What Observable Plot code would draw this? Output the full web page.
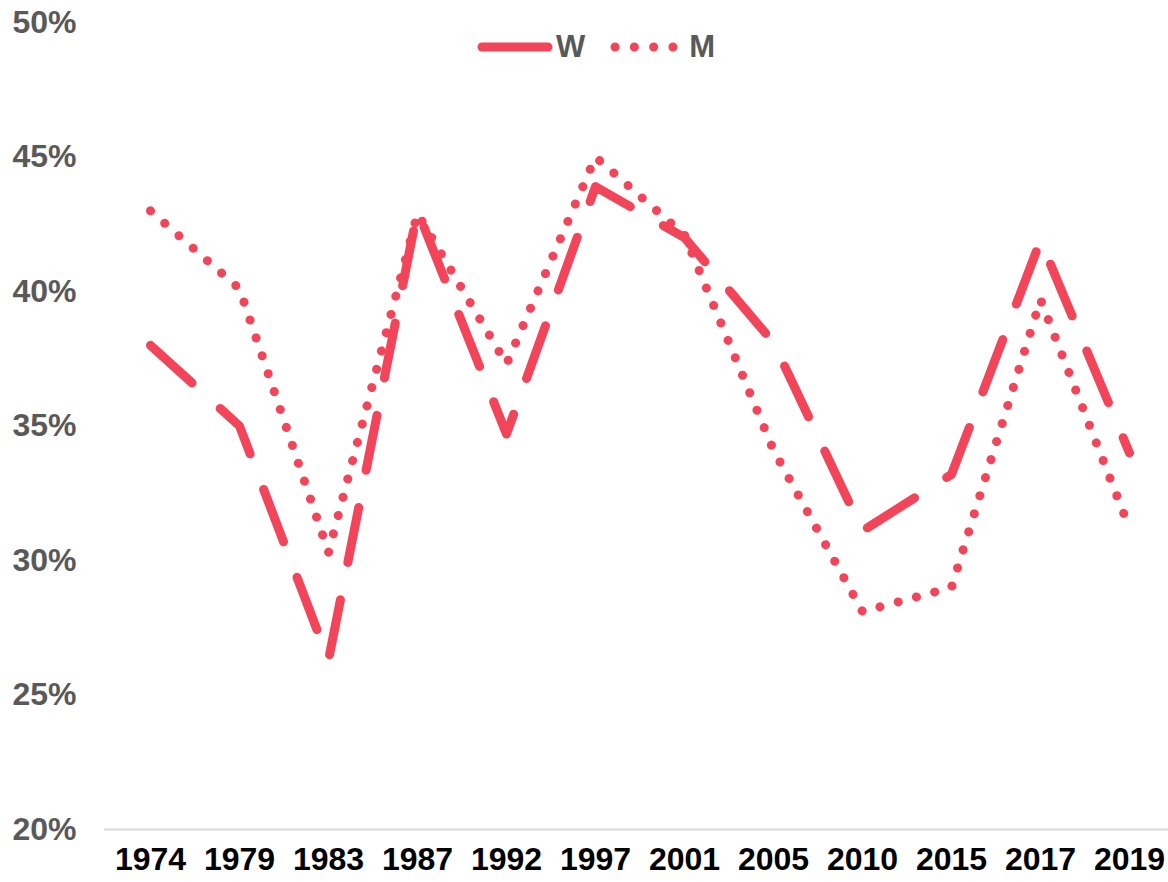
<!DOCTYPE html>
<html>
<head>
<meta charset="utf-8">
<script src="https://cdn.jsdelivr.net/npm/d3@7"></script>
<script src="https://cdn.jsdelivr.net/npm/@observablehq/plot@0.6"></script>
<style>
  html, body { margin: 0; padding: 0; background: #fff; }
  #wrap { position: relative; width: 1168px; height: 882px; overflow: hidden; font-family: "Liberation Sans", Arial, sans-serif; }
  #legend { position: absolute; left: 474px; top: 27px; display: flex; align-items: center; font-weight: bold; font-size: 31px; color: #595959; }
  #legend .item { display: flex; align-items: center; }
  #legend svg { display: block; }
</style>
</head>
<body>
<div id="wrap">
  <div id="chart"></div>
  <div id="legend"></div>
</div>
<script>
const years = ["1974","1979","1983","1987","1992","1997","2001","2005","2010","2015","2017","2019"];
const seriesW = [38.0, 35.0, 26.3, 43.0, 34.7, 43.9, 42.0, 38.1, 31.1, 33.2, 41.9, 34.0];
const seriesM = [43.0, 40.1, 30.3, 42.9, 37.3, 45.0, 42.1, 34.1, 28.1, 29.0, 39.7, 31.2];
const yTicks = [0.20, 0.25, 0.30, 0.35, 0.40, 0.45, 0.50];
const seriesNames = ["W", "M"];

const color = "#f3455a";
const styles = {
  W: { dash: "56,38" },
  M: { dash: "0.1,18.8" }
};

const data = [];
years.forEach((y, i) => {
  data.push({ year: y, value: seriesW[i] / 100, series: "W" });
  data.push({ year: y, value: seriesM[i] / 100, series: "M" });
});

const chart = Plot.plot({
  width: 1168,
  height: 882,
  marginLeft: 104,
  marginRight: -6,
  marginTop: 22,
  marginBottom: 53,
  style: { fontFamily: "'Liberation Sans', Arial, sans-serif", fontWeight: "bold", fontSize: "32px", background: "#fff", overflow: "hidden" },
  x: { type: "point", domain: years, padding: 0.5, label: null },
  y: { domain: [0.20, 0.50], label: null },
  marks: [
    Plot.axisY({ ticks: yTicks, tickFormat: d3.format(".0%"), tickSize: 0, tickPadding: 28, fill: "#595959", fontSize: 32, fontWeight: "bold" }),
    Plot.axisX({ tickSize: 0, tickPadding: 18, fill: "#000", fontSize: 32, fontWeight: "bold" }),
    Plot.ruleY([0.20], { stroke: "#d9d9d9", strokeWidth: 2 }),
    ...seriesNames.map(s => Plot.line(data.filter(d => d.series === s), {
      x: "year", y: "value",
      stroke: color, strokeWidth: 9,
      strokeDasharray: styles[s].dash,
      strokeLinecap: "round", strokeLinejoin: "round"
    }))
  ]
});
document.getElementById("chart").appendChild(chart);

// Legend
const legend = document.getElementById("legend");
const ns = "http://www.w3.org/2000/svg";
seriesNames.forEach((s, i) => {
  const item = document.createElement("div");
  item.className = "item";
  if (i > 0) item.style.marginLeft = "22px";
  const svg = document.createElementNS(ns, "svg");
  svg.setAttribute("width", 80);
  svg.setAttribute("height", 40);
  const line = document.createElementNS(ns, "line");
  line.setAttribute("x1", 8); line.setAttribute("x2", 74);
  line.setAttribute("y1", 20); line.setAttribute("y2", 20);
  line.setAttribute("stroke", color);
  line.setAttribute("stroke-width", 9);
  line.setAttribute("stroke-linecap", "round");
  if (s === "M") line.setAttribute("stroke-dasharray", "0.1,19.2");
  svg.appendChild(line);
  item.appendChild(svg);
  const label = document.createElement("span");
  label.textContent = s;
  label.style.marginLeft = "2px";
  item.appendChild(label);
  legend.appendChild(item);
});
</script>
</body>
</html>
